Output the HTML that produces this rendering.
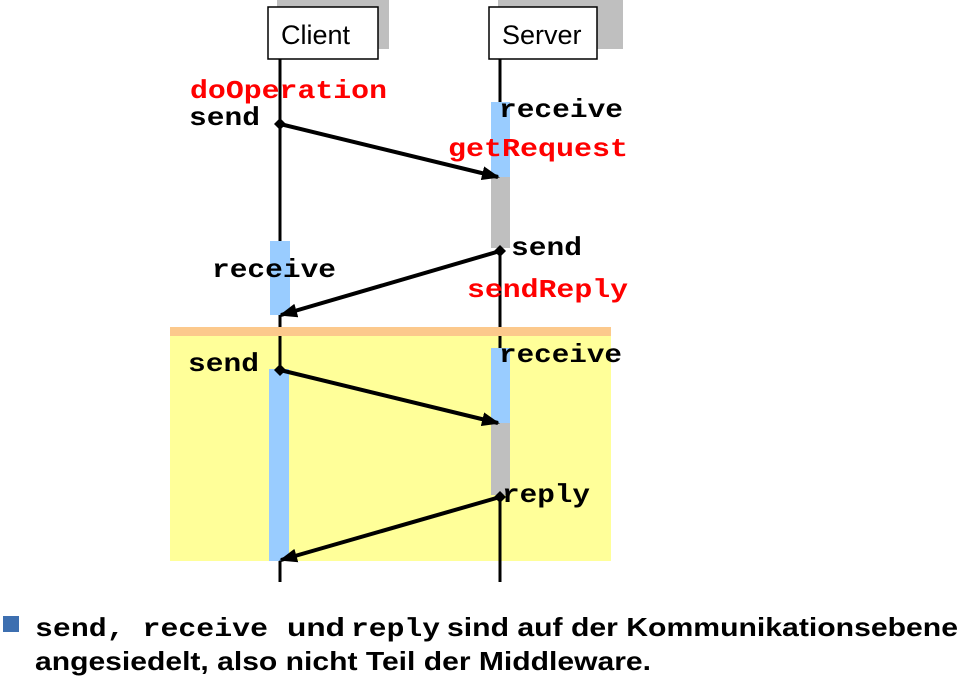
<!DOCTYPE html>
<html><head><meta charset="utf-8"><style>
html,body{margin:0;padding:0;background:#fff;width:965px;height:691px;overflow:hidden}
svg{display:block}
.m{font-family:"Liberation Mono",monospace;font-weight:bold;font-size:26px}
.r{fill:#f00}
.s{font-family:"Liberation Sans",sans-serif;font-weight:bold;font-size:26px}
</style></head><body>
<svg width="965" height="691" viewBox="0 0 965 691" xmlns="http://www.w3.org/2000/svg">
<defs>
<marker id="ah" markerWidth="18" markerHeight="14" refX="16" refY="7" orient="auto" markerUnits="userSpaceOnUse"><path d="M0,0 L18,7 L0,14 z" fill="#000"/></marker></defs>
<rect x="277" y="0" width="112" height="49" fill="#bfbfbf"/>
<rect x="498" y="0" width="125" height="49" fill="#bfbfbf"/>
<rect x="268" y="7" width="110" height="52" fill="#fff" stroke="#000" stroke-width="1.5"/>
<rect x="489" y="7" width="108" height="52" fill="#fff" stroke="#000" stroke-width="1.5"/>
<text x="281" y="44" font-family="Liberation Sans,sans-serif" font-size="27">Client</text>
<text x="502" y="44" font-family="Liberation Sans,sans-serif" font-size="27">Server</text>
<line x1="280" y1="59" x2="280" y2="582" stroke="#000" stroke-width="3"/>
<line x1="500" y1="59" x2="500" y2="582" stroke="#000" stroke-width="3"/>
<rect x="491" y="102" width="19" height="75" fill="#99ccff"/>
<rect x="491" y="177" width="19" height="71" fill="#bfbfbf"/>
<rect x="270" y="241" width="20" height="74" fill="#99ccff"/>
<rect x="170" y="327" width="441" height="9" fill="#fcc98c"/>
<rect x="170" y="336" width="441" height="225" fill="#ffff99"/>
<line x1="280" y1="336" x2="280" y2="370" stroke="#000" stroke-width="3"/>
<line x1="500" y1="336" x2="500" y2="350" stroke="#000" stroke-width="3"/>
<line x1="500" y1="495" x2="500" y2="582" stroke="#000" stroke-width="3"/>
<rect x="491" y="348" width="19" height="75" fill="#99ccff"/>
<rect x="491" y="423" width="19" height="72" fill="#bfbfbf"/>
<rect x="269" y="369" width="20" height="192" fill="#99ccff"/>
<g stroke="#000" stroke-width="4" fill="none">
<line x1="280" y1="124" x2="498" y2="177" marker-end="url(#ah)"/>
<line x1="500" y1="251" x2="281" y2="315" marker-end="url(#ah)"/>
<line x1="280" y1="370" x2="498" y2="423" marker-end="url(#ah)"/>
<line x1="500" y1="497" x2="281" y2="560" marker-end="url(#ah)"/>
</g>
<g fill="#000">
<path d="M280,118 L286,124 L280,130 L274,124z"/>
<path d="M500,245 L506,251 L500,257 L494,251z"/>
<path d="M280,364 L286,370 L280,376 L274,370z"/>
<path d="M500,491 L506,497 L500,503 L494,497z"/>
</g>
<text class="m r" x="190" y="98" textLength="197" lengthAdjust="spacingAndGlyphs">doOperation</text>
<text class="m" x="189" y="125" textLength="71" lengthAdjust="spacingAndGlyphs">send</text>
<text class="m" x="499" y="117" textLength="124" lengthAdjust="spacingAndGlyphs">receive</text>
<text class="m r" x="448" y="156" textLength="180" lengthAdjust="spacingAndGlyphs">getRequest</text>
<text class="m" x="511" y="255" textLength="71" lengthAdjust="spacingAndGlyphs">send</text>
<text class="m" x="212" y="277" textLength="124" lengthAdjust="spacingAndGlyphs">receive</text>
<text class="m r" x="467" y="297" textLength="161" lengthAdjust="spacingAndGlyphs">sendReply</text>
<text class="m" x="188" y="371" textLength="71" lengthAdjust="spacingAndGlyphs">send</text>
<text class="m" x="499" y="362" textLength="123" lengthAdjust="spacingAndGlyphs">receive</text>
<text class="m" x="502" y="502" textLength="88" lengthAdjust="spacingAndGlyphs">reply</text>
<rect x="3" y="616" width="16" height="16" fill="#3d6fb0"/>
<text x="35" y="636" class="m" font-size="24" textLength="233" lengthAdjust="spacingAndGlyphs">send, receive</text>
<text x="287" y="636" class="s" textLength="58" lengthAdjust="spacingAndGlyphs">und</text>
<text x="351" y="636" class="m" font-size="24" textLength="89" lengthAdjust="spacingAndGlyphs">reply</text>
<text x="447" y="636" class="s" textLength="511" lengthAdjust="spacingAndGlyphs">sind auf der Kommunikationsebene</text>
<text x="35" y="670" class="s" textLength="616" lengthAdjust="spacingAndGlyphs">angesiedelt, also nicht Teil der Middleware.</text>
</svg>
</body></html>
